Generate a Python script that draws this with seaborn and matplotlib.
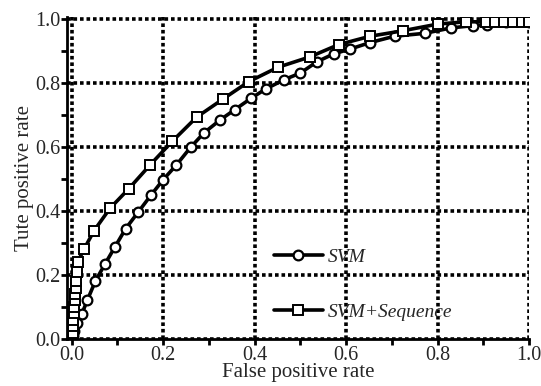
import numpy as np
import pandas as pd
import matplotlib
matplotlib.use("Agg")
import matplotlib.pyplot as plt
import seaborn as sns
from matplotlib.ticker import MultipleLocator

### ROC points
svm_fpr = [0.0, 0.003, 0.006, 0.011, 0.022, 0.034, 0.052, 0.073, 0.095, 0.118,
           0.145, 0.173, 0.200, 0.229, 0.260, 0.289, 0.325, 0.357, 0.393, 0.424,
           0.464, 0.500, 0.536, 0.573, 0.609, 0.652, 0.706, 0.772, 0.830, 0.877,
           0.909, 0.950, 1.0]
svm_tpr = [0.0, 0.010, 0.025, 0.049, 0.077, 0.120, 0.181, 0.234, 0.288, 0.344,
           0.395, 0.448, 0.497, 0.543, 0.598, 0.643, 0.684, 0.716, 0.752, 0.780,
           0.809, 0.830, 0.865, 0.890, 0.905, 0.925, 0.945, 0.954, 0.971, 0.978,
           0.980, 0.988, 0.990]

seq_fpr = [0.0, 0.002, 0.003, 0.004, 0.005, 0.006, 0.007, 0.008, 0.009, 0.010,
           0.011, 0.013, 0.027, 0.049, 0.084, 0.125, 0.172, 0.220, 0.273, 0.331,
           0.387, 0.451, 0.520, 0.584, 0.653, 0.724, 0.801, 0.862, 0.905, 0.925,
           0.945, 0.965, 0.985, 1.0]
seq_tpr = [0.0, 0.020, 0.040, 0.060, 0.080, 0.100, 0.120, 0.140, 0.160, 0.180,
           0.210, 0.240, 0.280, 0.338, 0.408, 0.469, 0.544, 0.617, 0.692, 0.749,
           0.803, 0.848, 0.880, 0.919, 0.945, 0.962, 0.983, 0.990, 0.990, 0.990,
           0.990, 0.990, 0.990, 0.990]

labels = ["SVM", "SVM+Sequence"]

sns.set_style("ticks")
plt.rcParams['font.family'] = ['Liberation Serif', 'DejaVu Serif']

fig = plt.figure(figsize=(5.41, 3.86), dpi=100)
ax = fig.add_axes([0.124, 0.122, 0.854, 0.834])

ax.grid(True, which='major', color='black', linestyle=(0, (1.0, 0.8)), linewidth=2.6)

sns.lineplot(x=svm_fpr, y=svm_tpr, ax=ax, sort=False, color='black', lw=2.6,
             marker='o', markersize=7, markerfacecolor='white',
             markeredgecolor='black', markeredgewidth=1.6, label=labels[0])
sns.lineplot(x=seq_fpr, y=seq_tpr, ax=ax, sort=False, color='black', lw=2.6,
             marker='s', markersize=7, markerfacecolor='white',
             markeredgecolor='black', markeredgewidth=1.4, label=labels[1])

ax.set_xlim(-0.01, 1.0)
ax.set_ylim(0, 1.005)
ax.xaxis.set_major_locator(MultipleLocator(0.2))
ax.xaxis.set_minor_locator(MultipleLocator(0.1))
ax.yaxis.set_major_locator(MultipleLocator(0.2))
ax.yaxis.set_minor_locator(MultipleLocator(0.1))
ax.xaxis.set_major_formatter(plt.FuncFormatter(lambda v, p: '%.1f' % v))
ax.yaxis.set_major_formatter(plt.FuncFormatter(lambda v, p: '%.1f' % v))
ax.tick_params(axis='both', which='major', labelsize=14.5, length=4, width=2,
               direction='out', color='black', pad=1)
ax.tick_params(axis='both', which='minor', length=4, width=2, direction='out',
               color='black')
for side in ['top', 'right']:
    ax.spines[side].set_visible(False)
for side in ['left', 'bottom']:
    ax.spines[side].set_linewidth(2)
    ax.spines[side].set_color('black')

ax.set_xlabel('False positive rate', fontsize=15, labelpad=-1)
ax.set_ylabel('Tute positive rate', fontsize=15, labelpad=1)

leg = ax.legend(loc='upper left', bbox_to_anchor=(0.41, 0.335), frameon=False,
                prop={'family': 'Liberation Serif', 'style': 'italic', 'size': 14},
                handlelength=2.5, labelspacing=1.9, handletextpad=0.25)

fig.savefig('out.png', dpi=100)
